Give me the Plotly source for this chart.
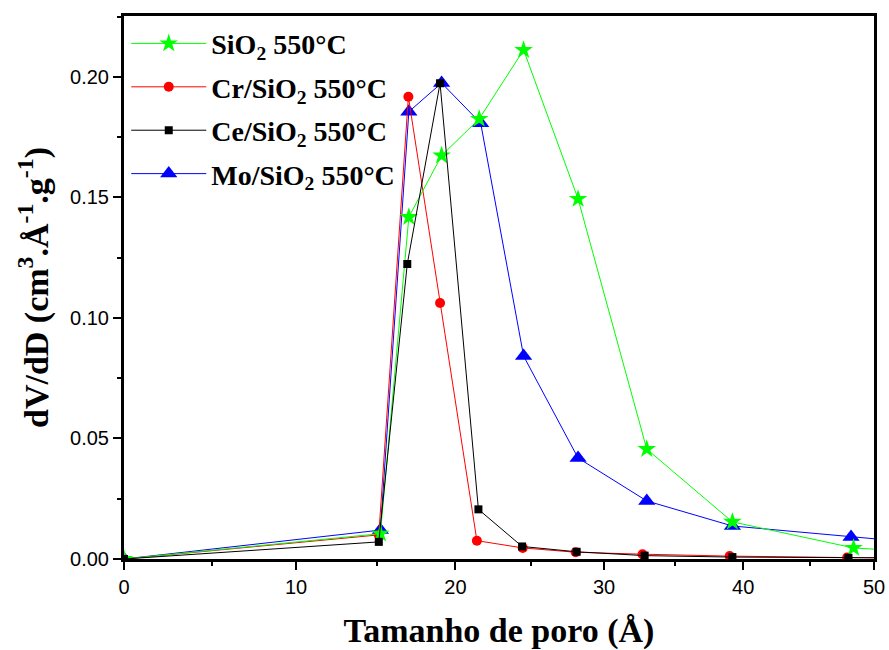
import math
import plotly.graph_objects as go

# Pore-size distribution (BJH) for the calcined samples
sio2_d = [0, 15.2, 17.0, 19.1, 21.55, 24.5, 28.2, 33.0, 39.2, 48.4, 62]
sio2_v = [0, 0.0105, 0.1419, 0.1674, 0.1826, 0.2112, 0.1494, 0.0456, 0.0154, 0.0046, 0.0003]

cr_d = [0, 15.1, 16.97, 19.0, 21.4, 24.44, 28.04, 32.7, 39.0, 47.9, 62]
cr_v = [0, 0.0100, 0.1918, 0.1062, 0.0076, 0.0046, 0.0028, 0.0020, 0.0012, 0.0006, 0.0002]

ce_d = [0, 15.1, 16.9, 19.0, 21.5, 24.4, 28.1, 32.85, 39.2, 48.0, 62]
ce_v = [0, 0.0071, 0.1224, 0.1974, 0.0206, 0.0052, 0.0030, 0.0014, 0.0008, 0.0005, 0.0002]

mo_d = [0, 15.2, 17.0, 19.1, 21.65, 24.5, 28.2, 33.0, 39.2, 48.2, 62]
mo_v = [0, 0.0120, 0.1856, 0.1975, 0.1808, 0.0842, 0.0419, 0.0241, 0.0137, 0.0091, 0.0029]

x_ticks = [0, 10, 20, 30, 40, 50]
x_minor = [5, 15, 25, 35, 45]
y_ticks = [0.00, 0.05, 0.10, 0.15, 0.20]
y_tick_text = ["0.00", "0.05", "0.10", "0.15", "0.20"]
y_minor = [0.025, 0.075, 0.125, 0.175, 0.225]

# the pore-size axis is compressed: log scale of (D + offset)
X_OFFSET = 122.0


def xs(vals):
    return [v + X_OFFSET for v in vals]


series = [
    # drawing order (bottom to top), legend rank
    ("Mo/SiO<sub>2</sub> 550°C", mo_d, mo_v, "#0000ff", "triangle-up", 15, 4),
    ("Cr/SiO<sub>2</sub> 550°C", cr_d, cr_v, "#ff0000", "circle", 10, 2),
    ("SiO<sub>2</sub> 550°C", sio2_d, sio2_v, "#00ff00", "star", 14, 1),
    ("Ce/SiO<sub>2</sub> 550°C", ce_d, ce_v, "#000000", "square", 8, 3),
]

fig = go.Figure()
for name, d, v, color, symbol, size, rank in series:
    fig.add_trace(go.Scatter(
        x=xs(d), y=v, name=name, mode="lines+markers",
        line=dict(color=color, width=1),
        marker=dict(color=color, symbol=symbol, size=size, line=dict(width=0)),
        legendrank=rank, legendgroup=f"g{rank}",
    ))

serif_bold = dict(family="Liberation Serif, Times New Roman", color="black", weight="bold")

axis_common = dict(
    showline=True, linecolor="black", linewidth=3, mirror=True,
    ticks="outside", ticklen=8, tickwidth=2, tickcolor="black",
    showgrid=False, zeroline=False, automargin=False,
    tickfont=dict(family="Liberation Sans, Arial", size=20, color="black"),
)

fig.update_layout(
    width=889, height=650,
    margin=dict(l=124, r=15, t=16, b=91),
    paper_bgcolor="white", plot_bgcolor="white",
    xaxis=dict(
        type="log",
        range=[math.log10(X_OFFSET), math.log10(50 + X_OFFSET)],
        tickmode="array", tickvals=xs(x_ticks), ticktext=[str(t) for t in x_ticks],
        minor=dict(tickmode="array", tickvals=xs(x_minor), ticklen=4,
                   tickwidth=2, tickcolor="black", ticks="outside"),
        title=dict(text="Tamanho de poro (Å)", standoff=22,
                   font=dict(size=34, **serif_bold)),
        **axis_common,
    ),
    yaxis=dict(
        range=[0, 0.2253],
        tickmode="array", tickvals=y_ticks, ticktext=y_tick_text,
        minor=dict(tickmode="array", tickvals=y_minor,
                   ticklen=4, tickwidth=2, tickcolor="black", ticks="outside"),
        title=dict(text="dV/dD (cm<sup>3</sup>.Å<sup>-1</sup>.g<sup>-1</sup>)", standoff=12,
                   font=dict(size=34, **serif_bold)),
        **axis_common,
    ),
    legend=dict(
        x=0.003, y=0.995, xanchor="left", yanchor="top",
        bgcolor="rgba(0,0,0,0)", borderwidth=0,
        itemwidth=75,
        font=dict(size=28, **serif_bold),
        traceorder="grouped", tracegroupgap=4,
    ),
    showlegend=True,
)

fig.write_html("out.html")
